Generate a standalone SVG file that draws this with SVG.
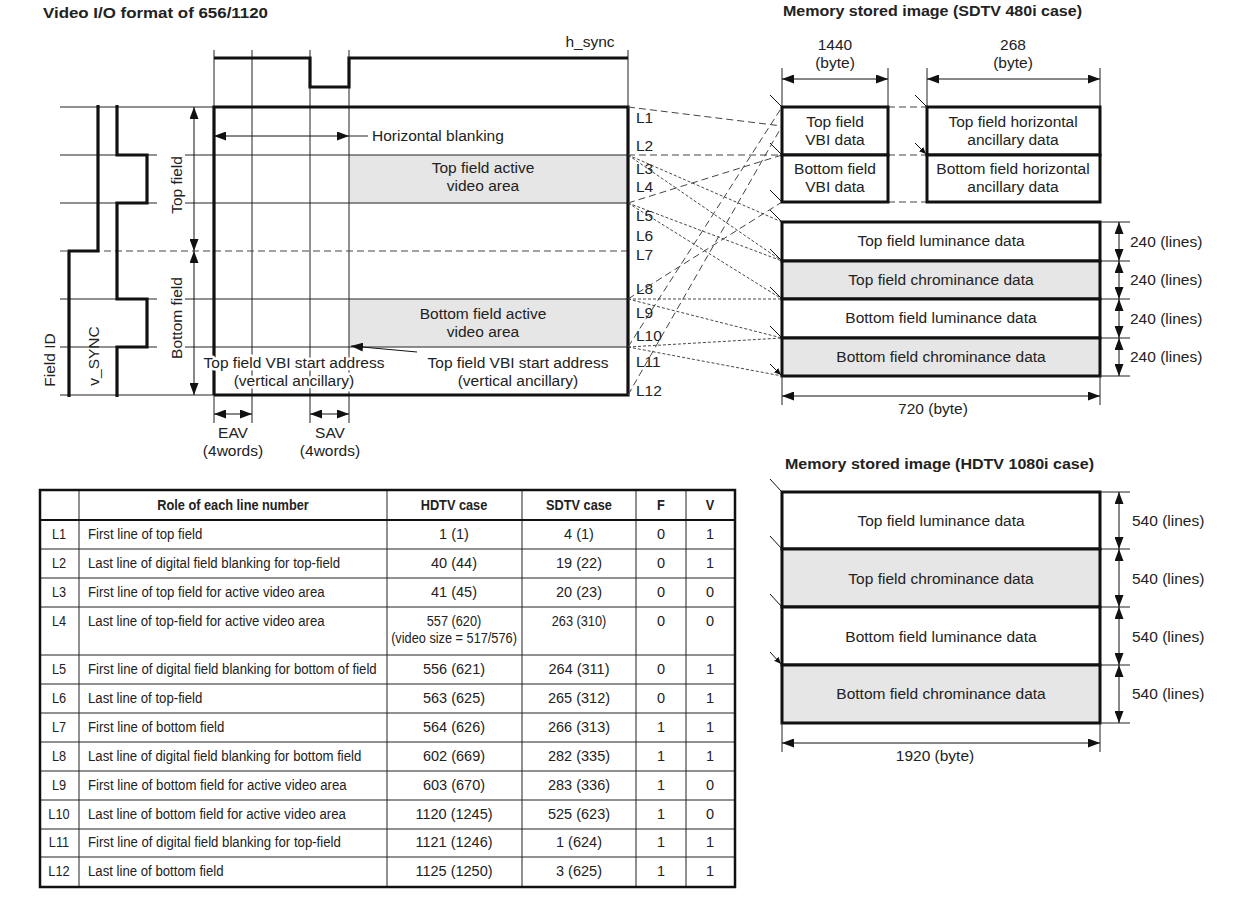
<svg xmlns="http://www.w3.org/2000/svg" width="1234" height="901" viewBox="0 0 1234 901">
<style>
text{font-family:"Liberation Sans",Arial,sans-serif;fill:#222;}
.t{font-size:15.5px;}
.c{text-anchor:middle;}
.b{font-weight:bold;font-size:14.5px;}
.th{stroke:#111;stroke-width:3.2;fill:none;}
.tn{stroke:#222;stroke-width:1;fill:none;}
.dl{stroke:#444;stroke-width:1;stroke-dasharray:7 4;fill:none;}
.df{stroke:#333;stroke-width:0.9;stroke-dasharray:3 2;fill:none;}
.dim{stroke:#111;stroke-width:1;fill:none;marker-start:url(#da);marker-end:url(#da);}
.ptr{stroke:#111;stroke-width:1;fill:none;marker-end:url(#pa);}
.box{stroke:#111;stroke-width:3;}
.g{fill:#e6e6e6;}
.w{fill:#fff;}
.tb{font-size:14.5px;}
.tr{font-size:15px;}
.tv{font-size:14.5px;}
.hb{font-size:14.5px;font-weight:bold;}
.halo{paint-order:stroke;stroke:#fff;stroke-width:5;stroke-linejoin:round;}
</style>
<defs>
<marker id="da" viewBox="0 0 12 9" markerWidth="12" markerHeight="9" refX="12" refY="4.5" orient="auto-start-reverse" markerUnits="userSpaceOnUse"><path d="M0,0 L12,4.5 L0,9 z" fill="#111"/></marker>
<marker id="pa" viewBox="0 0 7 6" markerWidth="7" markerHeight="6" refX="7" refY="3" orient="auto" markerUnits="userSpaceOnUse"><path d="M0,0 L7,3 L0,6 z" fill="#111"/></marker>
</defs>
<rect width="1234" height="901" fill="#fff"/>

<!-- Left: video I/O format -->
<g id="video-format">
<text x="43" y="18" class="b" textLength="225" lengthAdjust="spacingAndGlyphs">Video I/O format of 656/1120</text>
<rect x="349" y="155" width="279" height="48" class="g"/>
<rect x="349" y="299" width="279" height="48" class="g"/>
<path class="tn" d="M214,50 V423 M252,50 V423 M310,50 V423 M349,50 V423 M628,50 V107"/>
<path class="tn" d="M60,107 H214 M60,155 H157 M185,155 H628 M60,203 H157 M185,203 H628 M60,299 H157 M185,299 H628 M60,347 H157 M185,347 H628 M60,395 H214"/>
<path class="dl" d="M60,251 H628" stroke="#222"/>
<path class="th" d="M214,58 H310 V87 H349 V58 H628"/>
<text x="590" y="47" class="t c">h_sync</text>
<path class="th" d="M214,395 V107 H628 V395 H214"/>
<path class="th" d="M98,105 V251 H69 V397"/>
<path class="th" d="M117,105 V155 H147 V203 H117 V299 H147 V347 H117 V397"/>
<text transform="translate(55,360) rotate(-90)" class="t c">Field ID</text>
<text transform="translate(99,356) rotate(-90)" class="t c">v_SYNC</text>
<text transform="translate(182,185) rotate(-90)" class="t c">Top field</text>
<text transform="translate(182,318) rotate(-90)" class="t c">Bottom field</text>
<path class="dim" d="M194,107 V251"/>
<path class="dim" d="M194,251 V395"/>
<path class="dim" d="M214,136 H349"/>
<path class="tn" d="M349,136 H368"/>
<text x="372" y="141" class="t">Horizontal blanking</text>
<text x="483" y="173" class="t c">Top field active</text>
<text x="483" y="191" class="t c">video area</text>
<text x="483" y="319" class="t c">Bottom field active</text>
<text x="483" y="337" class="t c">video area</text>
<text x="294" y="368" class="t c halo">Top field VBI start address</text>
<text x="294" y="386" class="t c halo">(vertical ancillary)</text>
<text x="518" y="368" class="t c">Top field VBI start address</text>
<text x="518" y="386" class="t c">(vertical ancillary)</text>
<path d="M417,352 L351,346" stroke="#111" stroke-width="1" fill="none" marker-end="url(#da)"/>
<path class="dim" d="M214,414 H252"/>
<path class="dim" d="M310,414 H349"/>
<text x="233" y="438" class="t c">EAV</text>
<text x="233" y="456" class="t c">(4words)</text>
<text x="330" y="438" class="t c">SAV</text>
<text x="330" y="456" class="t c">(4words)</text>
<g class="t">
<text x="636" y="123">L1</text>
<text x="636" y="151">L2</text>
<text x="636" y="174">L3</text>
<text x="636" y="192">L4</text>
<text x="636" y="221">L5</text>
<text x="636" y="241">L6</text>
<text x="636" y="260">L7</text>
<text x="636" y="294">L8</text>
<text x="636" y="318">L9</text>
<text x="636" y="341">L10</text>
<text x="636" y="367">L11</text>
<text x="636" y="396">L12</text>
</g>
</g>

<!-- connectors -->
<g id="connectors">
<path class="dl" d="M628,107 L782,126"/>
<path class="dl" d="M628,155 L782,155" stroke="#777"/>
<path class="dl" d="M628,203 L782,155"/>
<path class="dl" d="M628,299 L782,202"/>
<path class="dl" d="M628,347 L782,107"/>
<path class="dl" d="M628,395 L782,126"/>
<path class="dl" d="M888,107 H927 M888,155 H927 M888,202 H927"/>
<path class="df" d="M628,155 L782,222"/>
<path class="df" d="M628,155 L782,261"/>
<path class="df" d="M628,203 L782,261"/>
<path class="df" d="M628,203 L782,299"/>
<path class="df" d="M628,299 L782,299"/>
<path class="df" d="M628,299 L782,338"/>
<path class="df" d="M628,347 L782,338"/>
<path class="df" d="M628,347 L782,376"/>
<path class="ptr" d="M770,95 L781,106 M770,143 L781,154 M770,190 L781,201 M770,210 L781,221 M770,249 L781,260 M770,287 L781,298 M770,326 L781,337 M770,364 L781,375"/>
<path class="ptr" d="M915,95 L926,106 M915,143 L926,154"/>
<path class="ptr" d="M770,479 L781,491 M770,536 L781,548 M770,594 L781,606 M770,652 L781,664"/>
</g>

<!-- SDTV memory -->
<g id="sdtv-memory">
<text x="783" y="16" class="b" textLength="299" lengthAdjust="spacingAndGlyphs">Memory stored image (SDTV 480i case)</text>
<text x="835" y="50" class="t c">1440</text>
<text x="835" y="68" class="t c">(byte)</text>
<text x="1013" y="50" class="t c">268</text>
<text x="1013" y="68" class="t c">(byte)</text>
<path class="tn" d="M782,68 V107 M888,68 V107 M927,68 V107 M1100,68 V107"/>
<path class="dim" d="M782,79 H888"/>
<path class="dim" d="M927,79 H1100"/>
</g>
<g id="top-vbi"><rect x="782" y="107" width="106" height="48" class="box w"/><text x="835" y="127" class="t c">Top field</text><text x="835" y="145" class="t c">VBI data</text></g>
<g id="bottom-vbi"><rect x="782" y="155" width="106" height="47" class="box w"/><text x="835" y="174" class="t c">Bottom field</text><text x="835" y="192" class="t c">VBI data</text></g>
<g id="top-hanc"><rect x="927" y="107" width="173" height="48" class="box w"/><text x="1013" y="127" class="t c">Top field horizontal</text><text x="1013" y="145" class="t c">ancillary data</text></g>
<g id="bottom-hanc"><rect x="927" y="155" width="173" height="47" class="box w"/><text x="1013" y="174" class="t c">Bottom field horizontal</text><text x="1013" y="192" class="t c">ancillary data</text></g>
<g id="sd-top-lum"><rect x="782" y="222" width="318" height="39" class="box w"/><text x="941" y="246" class="t c">Top field luminance data</text></g>
<g id="sd-top-chr"><rect x="782" y="261" width="318" height="38" class="box g"/><text x="941" y="285" class="t c">Top field chrominance data</text></g>
<g id="sd-bot-lum"><rect x="782" y="299" width="318" height="39" class="box w"/><text x="941" y="323" class="t c">Bottom field luminance data</text></g>
<g id="sd-bot-chr"><rect x="782" y="338" width="318" height="38" class="box g"/><text x="941" y="362" class="t c">Bottom field chrominance data</text></g>
<g id="sdtv-dims">
<path class="tn" d="M1100,222 H1130 M1100,261 H1130 M1100,299 H1130 M1100,338 H1130 M1100,376 H1130 M782,376 V405 M1100,376 V405"/>
<path class="dim" d="M1119,222 V261"/><path class="dim" d="M1119,261 V299"/><path class="dim" d="M1119,299 V338"/><path class="dim" d="M1119,338 V376"/>
<text x="1130" y="247" class="t">240 (lines)</text>
<text x="1130" y="285" class="t">240 (lines)</text>
<text x="1130" y="324" class="t">240 (lines)</text>
<text x="1130" y="362" class="t">240 (lines)</text>
<path class="dim" d="M782,396 H1100"/>
<text x="933" y="414" class="t c">720 (byte)</text>
</g>

<!-- HDTV memory -->
<g id="hdtv-memory">
<text x="785" y="469" class="b" textLength="309" lengthAdjust="spacingAndGlyphs">Memory stored image (HDTV 1080i case)</text>
</g>
<g id="hd-top-lum"><rect x="782" y="492" width="318" height="57" class="box w"/><text x="941" y="526" class="t c">Top field luminance data</text></g>
<g id="hd-top-chr"><rect x="782" y="549" width="318" height="58" class="box g"/><text x="941" y="584" class="t c">Top field chrominance data</text></g>
<g id="hd-bot-lum"><rect x="782" y="607" width="318" height="58" class="box w"/><text x="941" y="642" class="t c">Bottom field luminance data</text></g>
<g id="hd-bot-chr"><rect x="782" y="665" width="318" height="58" class="box g"/><text x="941" y="699" class="t c">Bottom field chrominance data</text></g>
<g id="hdtv-dims">
<path class="tn" d="M1100,492 H1130 M1100,549 H1130 M1100,607 H1130 M1100,665 H1130 M1100,723 H1130 M782,723 V752 M1100,723 V752"/>
<path class="dim" d="M1119,492 V549"/><path class="dim" d="M1119,549 V607"/><path class="dim" d="M1119,607 V665"/><path class="dim" d="M1119,665 V723"/>
<text x="1132" y="526" class="t">540 (lines)</text>
<text x="1132" y="584" class="t">540 (lines)</text>
<text x="1132" y="642" class="t">540 (lines)</text>
<text x="1132" y="699" class="t">540 (lines)</text>
<path class="dim" d="M782,743 H1100"/>
<text x="935" y="761" class="t c">1920 (byte)</text>
</g>

<!-- Table -->
<g id="table">
<path class="tn" d="M79,490 V887 M387,490 V887 M522,490 V887 M636,490 V887 M686,490 V887"/>
<path class="tn" d="M40,549 H735 M40,578 H735 M40,607 H735 M40,655 H735 M40,684 H735 M40,713 H735 M40,742 H735 M40,771 H735 M40,800 H735 M40,829 H735 M40,857 H735"/>
<path d="M40,520 H735" stroke="#111" stroke-width="2"/>
<rect x="40" y="490" width="695" height="397" fill="none" stroke="#111" stroke-width="2.5"/>
<g class="hb c">
<text transform="translate(233 510) scale(0.88 1)">Role of each line number</text>
<text transform="translate(454 510) scale(0.88 1)">HDTV case</text>
<text transform="translate(579 510) scale(0.88 1)">SDTV case</text>
<text transform="translate(661 510) scale(0.88 1)">F</text>
<text transform="translate(710 510) scale(0.88 1)">V</text>
</g>
<g class="tb c">
<text transform="translate(59 539) scale(0.88 1)">L1</text>
<text transform="translate(59 568) scale(0.88 1)">L2</text>
<text transform="translate(59 597) scale(0.88 1)">L3</text>
<text transform="translate(59 626) scale(0.88 1)">L4</text>
<text transform="translate(59 674) scale(0.88 1)">L5</text>
<text transform="translate(59 703) scale(0.88 1)">L6</text>
<text transform="translate(59 732) scale(0.88 1)">L7</text>
<text transform="translate(59 761) scale(0.88 1)">L8</text>
<text transform="translate(59 790) scale(0.88 1)">L9</text>
<text transform="translate(59 819) scale(0.88 1)">L10</text>
<text transform="translate(59 847) scale(0.88 1)">L11</text>
<text transform="translate(59 876) scale(0.88 1)">L12</text>
</g>
<g class="tr" transform="translate(88 0) scale(0.88 1)">
<text x="0" y="539">First line of top field</text>
<text x="0" y="568">Last line of digital field blanking for top-field</text>
<text x="0" y="597">First line of top field for active video area</text>
<text x="0" y="626">Last line of top-field for active video area</text>
<text x="0" y="674">First line of digital field blanking for bottom of field</text>
<text x="0" y="703">Last line of top-field</text>
<text x="0" y="732">First line of bottom field</text>
<text x="0" y="761">Last line of digital field blanking for bottom field</text>
<text x="0" y="790">First line of bottom field for active video area</text>
<text x="0" y="819">Last line of bottom field for active video area</text>
<text x="0" y="847">First line of digital field blanking for top-field</text>
<text x="0" y="876">Last line of bottom field</text>
</g>
<g class="tb c">
<text transform="translate(454 626) scale(0.88 1)">557 (620)</text>
<text transform="translate(454 643) scale(0.88 1)">(video size = 517/576)</text>
<text transform="translate(579 626) scale(0.88 1)">263 (310)</text>
<text x="661" y="626">0</text><text x="710" y="626">0</text>
</g>
<g class="tv c">
<text x="454" y="539">1 (1)</text><text x="579" y="539">4 (1)</text><text x="661" y="539">0</text><text x="710" y="539">1</text>
<text x="454" y="568">40 (44)</text><text x="579" y="568">19 (22)</text><text x="661" y="568">0</text><text x="710" y="568">1</text>
<text x="454" y="597">41 (45)</text><text x="579" y="597">20 (23)</text><text x="661" y="597">0</text><text x="710" y="597">0</text>
<text x="454" y="674">556 (621)</text><text x="579" y="674">264 (311)</text><text x="661" y="674">0</text><text x="710" y="674">1</text>
<text x="454" y="703">563 (625)</text><text x="579" y="703">265 (312)</text><text x="661" y="703">0</text><text x="710" y="703">1</text>
<text x="454" y="732">564 (626)</text><text x="579" y="732">266 (313)</text><text x="661" y="732">1</text><text x="710" y="732">1</text>
<text x="454" y="761">602 (669)</text><text x="579" y="761">282 (335)</text><text x="661" y="761">1</text><text x="710" y="761">1</text>
<text x="454" y="790">603 (670)</text><text x="579" y="790">283 (336)</text><text x="661" y="790">1</text><text x="710" y="790">0</text>
<text x="454" y="819">1120 (1245)</text><text x="579" y="819">525 (623)</text><text x="661" y="819">1</text><text x="710" y="819">0</text>
<text x="454" y="847">1121 (1246)</text><text x="579" y="847">1 (624)</text><text x="661" y="847">1</text><text x="710" y="847">1</text>
<text x="454" y="876">1125 (1250)</text><text x="579" y="876">3 (625)</text><text x="661" y="876">1</text><text x="710" y="876">1</text>
</g>
</g>
</svg>
